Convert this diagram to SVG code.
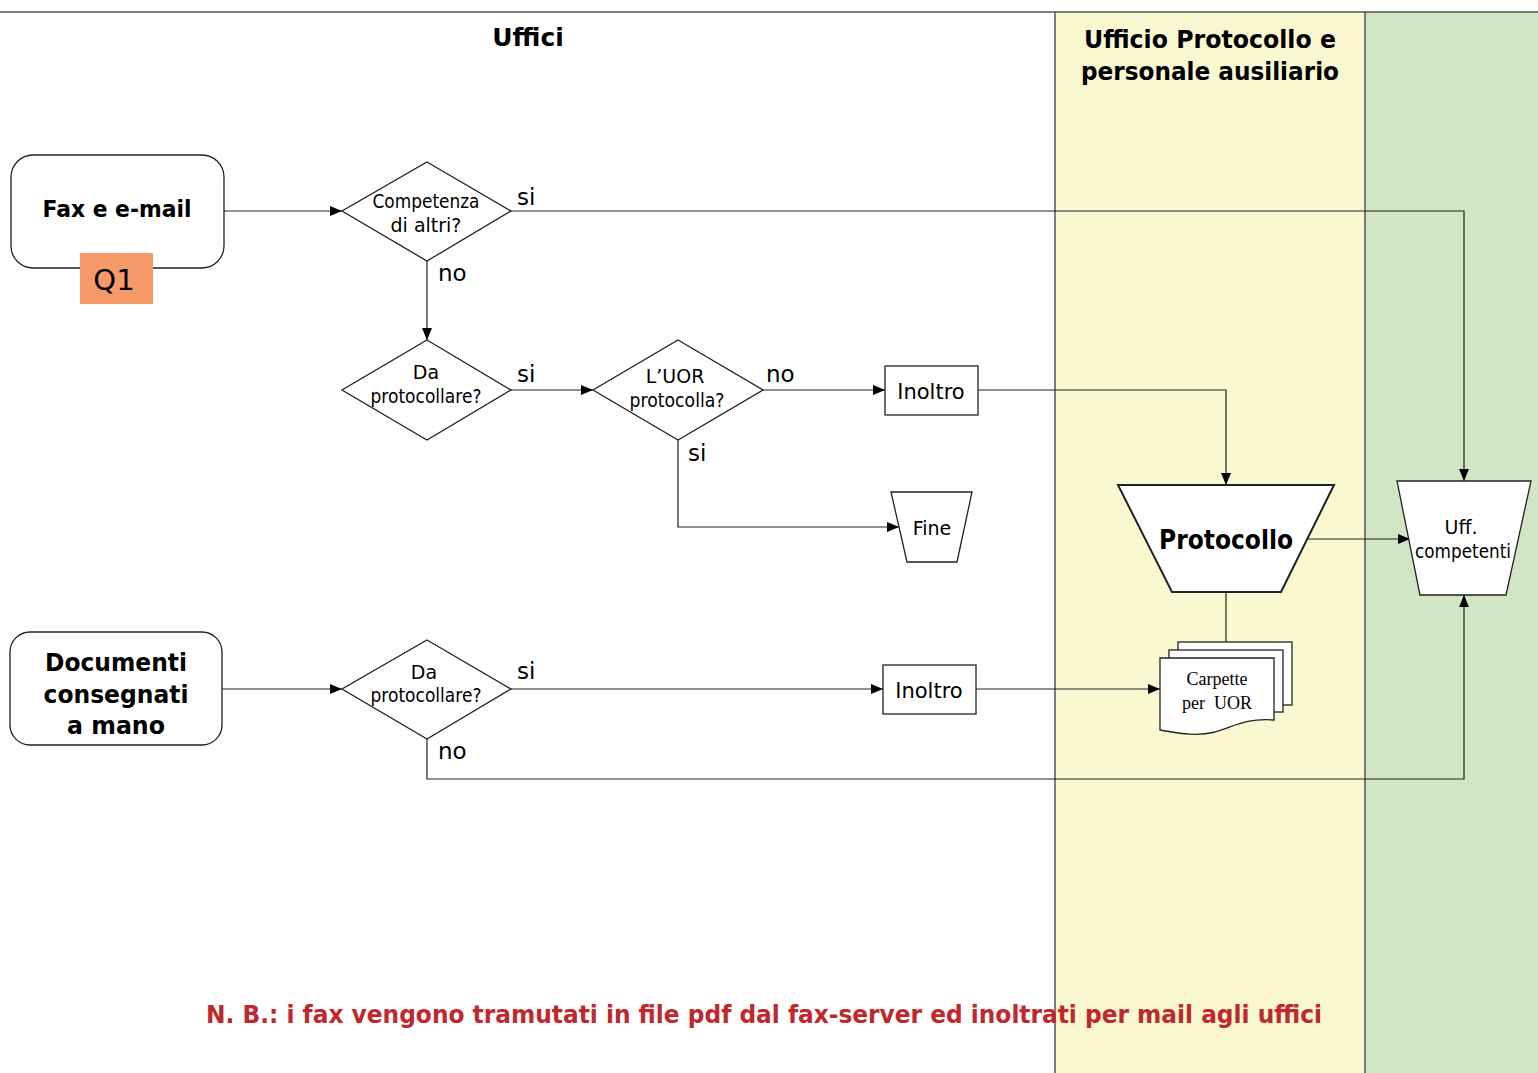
<svg xmlns="http://www.w3.org/2000/svg" width="1538" height="1073" viewBox="0 0 1538 1073">
<style>
.t{font-family:"DejaVu Sans","Verdana",sans-serif;fill:#000}
.b{font-weight:bold}
.shape{fill:#fff;stroke:#222;stroke-width:1.3}
.c{fill:none;stroke:#222;stroke-width:1.2}
.lane{stroke:#555;stroke-width:1.5}
</style>
<defs>
<marker id="ah" viewBox="0 0 12 10" refX="12" refY="5" markerWidth="12" markerHeight="10" markerUnits="userSpaceOnUse" orient="auto">
<path d="M0,0 L12,5 L0,10 z" fill="#000"/>
</marker>
</defs>
<rect width="1538" height="1073" fill="#fff"/>
<g id="lanes">
<rect x="1055" y="12" width="310" height="1061" fill="#FAF8D0"/>
<rect x="1365" y="12" width="173" height="1061" fill="#D0E6C4"/>
<line class="lane" x1="0" y1="12" x2="1538" y2="12"/>
<line class="lane" x1="1055" y1="12" x2="1055" y2="1073"/>
<line class="lane" x1="1365" y1="12" x2="1365" y2="1073"/>
<text class="t b" x="528" y="46" font-size="25" text-anchor="middle">Uffici</text>
<text class="t b" x="1210" y="48" font-size="25" text-anchor="middle" textLength="252" lengthAdjust="spacingAndGlyphs">Ufficio Protocollo e</text>
<text class="t b" x="1210" y="80" font-size="25" text-anchor="middle" textLength="258" lengthAdjust="spacingAndGlyphs">personale ausiliario</text>
</g>
<g id="connectors">
<path class="c" d="M224,211 H342" marker-end="url(#ah)"/>
<path class="c" d="M511,211 H1464 V481" marker-end="url(#ah)"/>
<path class="c" d="M427,261 V340" marker-end="url(#ah)"/>
<path class="c" d="M511,390 H593" marker-end="url(#ah)"/>
<path class="c" d="M763,390 H885" marker-end="url(#ah)"/>
<path class="c" d="M678,440 V527 H899" marker-end="url(#ah)"/>
<path class="c" d="M978,390 H1226 V485" marker-end="url(#ah)"/>
<path class="c" d="M1308,539 H1410" marker-end="url(#ah)"/>
<path class="c" d="M1226,592 V642"/>
<path class="c" d="M222,689 H342" marker-end="url(#ah)"/>
<path class="c" d="M511,689 H883" marker-end="url(#ah)"/>
<path class="c" d="M976,689 H1160" marker-end="url(#ah)"/>
<path class="c" d="M427,739 V779 H1464 V595" marker-end="url(#ah)"/>
<text class="t" x="517" y="205" font-size="23">si</text>
<text class="t" x="438" y="281" font-size="23">no</text>
<text class="t" x="517" y="382" font-size="23">si</text>
<text class="t" x="766" y="382" font-size="23">no</text>
<text class="t" x="688" y="461" font-size="23">si</text>
<text class="t" x="517" y="679" font-size="23">si</text>
<text class="t" x="438" y="759" font-size="23">no</text>
</g>
<g id="fax">
<rect class="shape" x="11" y="155" width="213" height="113" rx="22"/>
<text class="t b" x="117" y="217" font-size="23" text-anchor="middle" textLength="149" lengthAdjust="spacingAndGlyphs">Fax e e-mail</text>
</g>
<g id="q1">
<rect x="80" y="253" width="73" height="51" fill="#F79A6A"/>
<text class="t" x="114" y="290" font-size="29" text-anchor="middle">Q1</text>
</g>
<g id="competenza">
<polygon class="shape" points="427,162 511,211 427,261 342,211"/>
<text class="t" x="426" y="208" font-size="19" text-anchor="middle" textLength="107" lengthAdjust="spacingAndGlyphs">Competenza</text>
<text class="t" x="426" y="232" font-size="19" text-anchor="middle">di altri?</text>
</g>
<g id="daprot1">
<polygon class="shape" points="427,340 511,390 427,440 342,390"/>
<text class="t" x="426" y="379" font-size="19" text-anchor="middle">Da</text>
<text class="t" x="426" y="403" font-size="19" text-anchor="middle" textLength="111" lengthAdjust="spacingAndGlyphs">protocollare?</text>
</g>
<g id="uor">
<polygon class="shape" points="678,340 763,390 678,440 593,390"/>
<text class="t" x="675" y="383" font-size="19" text-anchor="middle">L’UOR</text>
<text class="t" x="677" y="407" font-size="19" text-anchor="middle" textLength="95" lengthAdjust="spacingAndGlyphs">protocolla?</text>
</g>
<g id="inoltro1">
<rect class="shape" x="885" y="366" width="93" height="49"/>
<text class="t" x="931" y="399" font-size="21" text-anchor="middle">Inoltro</text>
</g>
<g id="fine">
<polygon class="shape" points="891,492 972,492 957,562 907,562"/>
<text class="t" x="932" y="535" font-size="19" text-anchor="middle">Fine</text>
</g>
<g id="protocollo">
<polygon class="shape" points="1118,485 1334,485 1281,592 1172,592" style="stroke-width:2"/>
<text class="t b" x="1226" y="549" font-size="26" text-anchor="middle" textLength="134" lengthAdjust="spacingAndGlyphs">Protocollo</text>
</g>
<g id="uffcompetenti">
<polygon class="shape" points="1397,481 1531,481 1506,595 1420,595"/>
<text class="t" x="1461" y="534" font-size="19" text-anchor="middle">Uff.</text>
<text class="t" x="1463" y="558" font-size="19" text-anchor="middle" textLength="96" lengthAdjust="spacingAndGlyphs">competenti</text>
</g>
<g id="documenti">
<rect class="shape" x="10" y="632" width="212" height="113" rx="20"/>
<text class="t b" x="116" y="671" font-size="25" text-anchor="middle" textLength="142" lengthAdjust="spacingAndGlyphs">Documenti</text>
<text class="t b" x="116" y="703" font-size="25" text-anchor="middle" textLength="145" lengthAdjust="spacingAndGlyphs">consegnati</text>
<text class="t b" x="116" y="734" font-size="25" text-anchor="middle" textLength="98" lengthAdjust="spacingAndGlyphs">a mano</text>
</g>
<g id="daprot2">
<polygon class="shape" points="427,640 511,689 427,739 342,689"/>
<text class="t" x="424" y="679" font-size="19" text-anchor="middle">Da</text>
<text class="t" x="426" y="702" font-size="19" text-anchor="middle" textLength="111" lengthAdjust="spacingAndGlyphs">protocollare?</text>
</g>
<g id="inoltro2">
<rect class="shape" x="883" y="665" width="93" height="49"/>
<text class="t" x="929" y="698" font-size="21" text-anchor="middle">Inoltro</text>
</g>
<g id="carpette">
<rect class="shape" x="1178" y="642" width="114" height="63"/>
<rect class="shape" x="1169" y="650" width="114" height="62"/>
<path class="shape" d="M1160,658 H1274 V720 C1245,718 1235,726 1215,732 C1195,737 1178,733 1160,730 Z"/>
<text x="1217" y="685" font-family="Liberation Serif,serif" font-size="18" text-anchor="middle">Carpette</text>
<text x="1217" y="709" font-family="Liberation Serif,serif" font-size="18" text-anchor="middle" xml:space="preserve">per  UOR</text>
</g>
<g id="note">
<text class="t b" x="764" y="1023" font-size="24" text-anchor="middle" fill="#C0282D" style="fill:#C0282D" textLength="1116" lengthAdjust="spacingAndGlyphs">N. B.: i fax vengono tramutati in file pdf dal fax-server ed inoltrati per mail agli uffici</text>
</g>
</svg>
